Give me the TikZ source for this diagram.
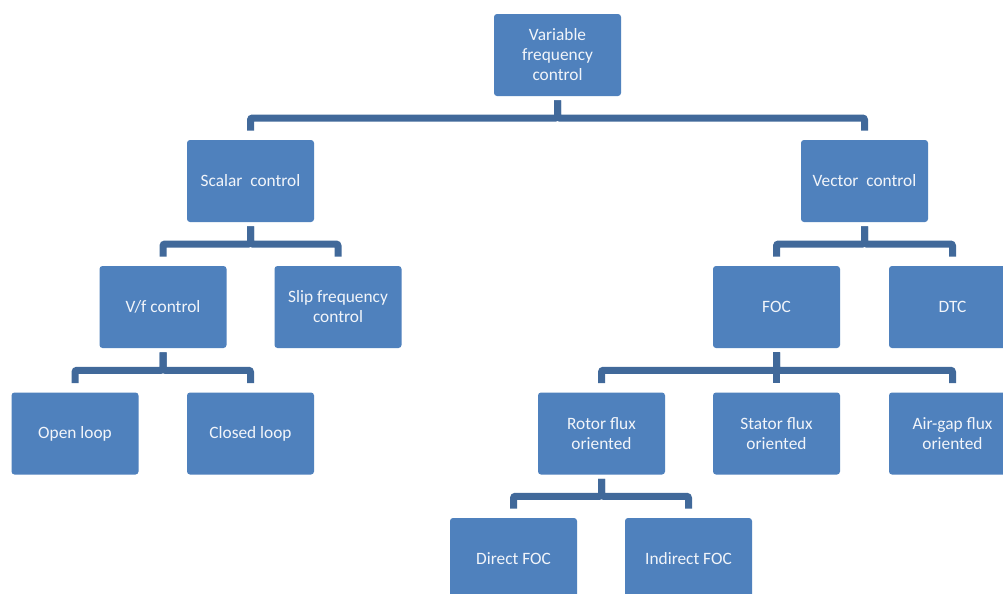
\documentclass[tikz,border=0pt]{standalone}
\usepackage{fontspec}
\setmainfont{Carlito}
\usetikzlibrary{calc}
\definecolor{boxblue}{HTML}{4F81BD}
\definecolor{linkblue}{HTML}{41699A}
\definecolor{txtwhite}{HTML}{F2F5FA}
\begin{document}
\begin{tikzpicture}[x=0.75pt,y=-0.75pt,
  box/.style={rectangle, rounded corners=2.25pt, fill=boxblue, text=txtwhite,
    minimum width=95.25pt, minimum height=61.5pt, align=center, inner sep=0pt,
    font=\fontsize{13}{15}\selectfont},
  conn/.style={draw=linkblue, line width=5.25pt, rounded corners=1.5pt}]
\clip (0,0) rectangle (1003,593);
\fill[white] (0,0) rectangle (1003,593);
% nodes
\node[box] (vfc) at (557.5,55) {Variable\\frequency\\control};
\node[box] (scalar) at (250.5,181) {Scalar\ \ control};
\node[box] (vector) at (864.5,181) {Vector\ \ control};
\node[box] (vf) at (163,307) {V/f control};
\node[box] (slip) at (338,307) {Slip frequency\\control};
\node[box] (foc) at (776.5,307) {FOC};
\node[box] (dtc) at (952.5,307) {DTC};
\node[box] (open) at (75,433.5) {Open loop};
\node[box] (closed) at (250.5,433.5) {Closed loop};
\node[box] (rotor) at (601.5,433.5) {Rotor flux\\oriented};
\node[box] (stator) at (776.5,433.5) {Stator flux\\oriented};
\node[box] (airgap) at (952.5,433.5) {Air-gap flux\\oriented};
\node[box] (direct) at (513.5,559) {Direct FOC};
\node[box] (indirect) at (688.5,559) {Indirect FOC};
% bar levels
\coordinate (m1) at ($(vfc.south)!.5!(scalar.north)$);
\coordinate (m2) at ($(scalar.south)!.5!(vf.north)$);
\coordinate (m3) at ($(vector.south)!.5!(foc.north)$);
\coordinate (m4) at ($(vf.south)!.5!(open.north)$);
\coordinate (m5) at ($(foc.south)!.5!(rotor.north)$);
\coordinate (m6) at ($(rotor.south)!.5!(direct.north)$);
% connectors
\draw[conn] ([yshift=-3pt]vfc.south) |- (m1 -| scalar.north) -- ([yshift=6.75pt]scalar.north);
\draw[conn] ([yshift=-3pt]vfc.south) |- (m1 -| vector.north) -- ([yshift=6.75pt]vector.north);
\draw[conn] ([yshift=-3pt]scalar.south) |- (m2 -| vf.north) -- ([yshift=6.75pt]vf.north);
\draw[conn] ([yshift=-3pt]scalar.south) |- (m2 -| slip.north) -- ([yshift=6.75pt]slip.north);
\draw[conn] ([yshift=-3pt]vector.south) |- (m3 -| foc.north) -- ([yshift=6.75pt]foc.north);
\draw[conn] ([yshift=-3pt]vector.south) |- (m3 -| dtc.north) -- ([yshift=6.75pt]dtc.north);
\draw[conn] ([yshift=-3pt]vf.south) |- (m4 -| open.north) -- ([yshift=6.75pt]open.north);
\draw[conn] ([yshift=-3pt]vf.south) |- (m4 -| closed.north) -- ([yshift=6.75pt]closed.north);
\draw[conn] ([yshift=-3pt]foc.south) |- (m5 -| rotor.north) -- ([yshift=6.75pt]rotor.north);
\draw[conn] ([yshift=-3pt]foc.south) -- ([yshift=6.75pt]stator.north);
\draw[conn] ([yshift=-3pt]foc.south) |- (m5 -| airgap.north) -- ([yshift=6.75pt]airgap.north);
\draw[conn] ([yshift=-3pt]rotor.south) |- (m6 -| direct.north) -- ([yshift=6.75pt]direct.north);
\draw[conn] ([yshift=-3pt]rotor.south) |- (m6 -| indirect.north) -- ([yshift=6.75pt]indirect.north);
\end{tikzpicture}
\end{document}
